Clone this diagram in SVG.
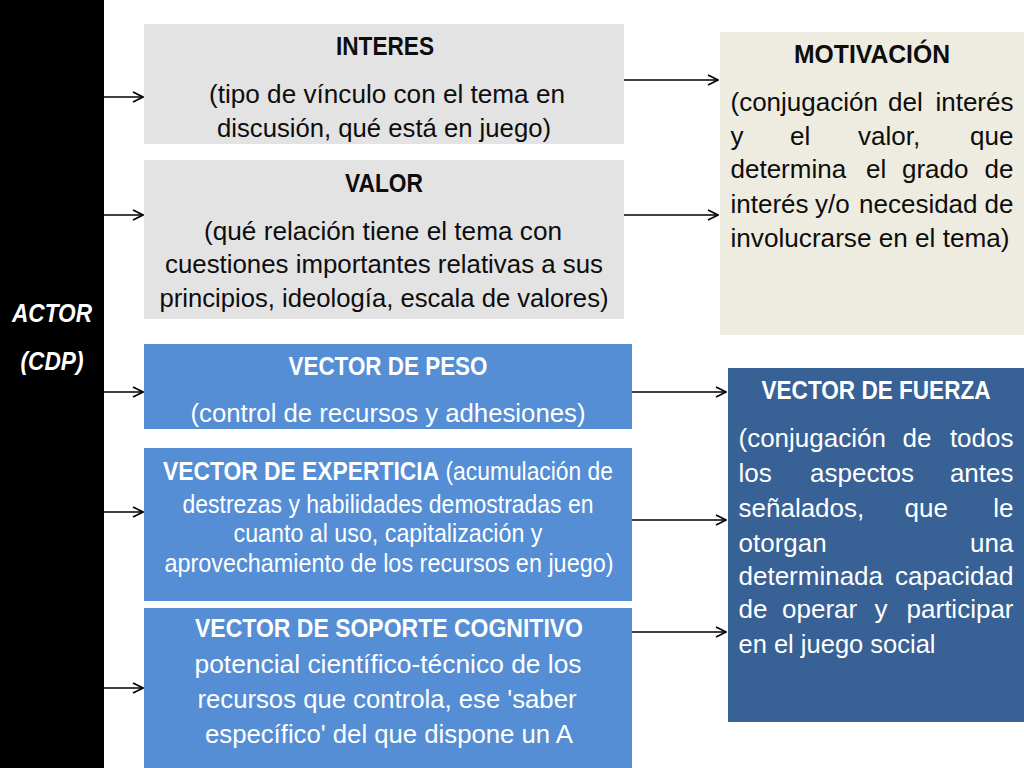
<svg xmlns="http://www.w3.org/2000/svg" width="1024" height="768" viewBox="0 0 1024 768">
<defs>
<style>
text{font-family:"Liberation Sans","Open Sans",Arial,sans-serif;font-size:26px}
.dk{fill:#0d0d0d}
.wt{fill:#fff}
.b{font-weight:bold}
.c{text-anchor:middle}
.conn line{stroke:#000;stroke-width:1.6;marker-end:url(#ah)}
</style>
<marker id="ah" viewBox="0 0 12 12" refX="11" refY="6" markerWidth="12" markerHeight="12" markerUnits="userSpaceOnUse" orient="auto">
<path d="M1,1 L11,6 L1,11" fill="none" stroke="#000" stroke-width="1.6"/>
</marker>
</defs>
<rect width="1024" height="768" fill="#fff"/>

<g id="actor">
<rect x="0" y="0" width="104" height="768" fill="#000"/>
<text class="wt b c" x="52" y="322" font-style="italic" textLength="80" lengthAdjust="spacingAndGlyphs">ACTOR</text>
<text class="wt b c" x="52" y="370" font-style="italic" textLength="63" lengthAdjust="spacingAndGlyphs">(CDP)</text>
</g>

<g id="interes">
<rect x="144" y="24" width="480" height="120" fill="#e3e3e3"/>
<text class="dk b c" x="385" y="55" textLength="98" lengthAdjust="spacingAndGlyphs">INTERES</text>
<text class="dk c" x="387" y="103" textLength="356" lengthAdjust="spacingAndGlyphs">(tipo de vínculo con el tema en</text>
<text class="dk c" x="384" y="137" textLength="334" lengthAdjust="spacingAndGlyphs">discusión, qué está en juego)</text>
</g>

<g id="valor">
<rect x="144" y="160" width="480" height="159" fill="#e3e3e3"/>
<text class="dk b c" x="384" y="192" textLength="78" lengthAdjust="spacingAndGlyphs">VALOR</text>
<text class="dk c" x="383" y="240" textLength="358" lengthAdjust="spacingAndGlyphs">(qué relación tiene el tema con</text>
<text class="dk c" x="384" y="273" textLength="438" lengthAdjust="spacingAndGlyphs">cuestiones importantes relativas a sus</text>
<text class="dk c" x="384" y="307" textLength="449" lengthAdjust="spacingAndGlyphs">principios, ideología, escala de valores)</text>
</g>

<g id="motivacion">
<rect x="720" y="32" width="304" height="303" fill="#eeece1"/>
<text class="dk b c" x="872" y="63" textLength="156" lengthAdjust="spacingAndGlyphs">MOTIVACIÓN</text>
<text class="dk" y="111"><tspan x="730.5">(conjugación</tspan><tspan x="888">del</tspan><tspan x="1013.5" text-anchor="end">interés</tspan></text>
<text class="dk" y="145"><tspan x="730.5">y</tspan><tspan x="790">el</tspan><tspan x="858">valor,</tspan><tspan x="1013.5" text-anchor="end">que</tspan></text>
<text class="dk" y="178"><tspan x="730.5">determina</tspan><tspan x="866">el</tspan><tspan x="902">grado</tspan><tspan x="1013.5" text-anchor="end">de</tspan></text>
<text class="dk" y="213"><tspan x="730.5">interés</tspan><tspan x="815">y/o</tspan><tspan x="859">necesidad</tspan><tspan x="1013.5" text-anchor="end">de</tspan></text>
<text class="dk" x="730.5" y="247" textLength="279" lengthAdjust="spacingAndGlyphs">involucrarse en el tema)</text>
</g>

<g id="peso">
<rect x="144" y="344" width="488" height="85" fill="#558ed5"/>
<text class="wt b c" x="388" y="375" textLength="199" lengthAdjust="spacingAndGlyphs">VECTOR DE PESO</text>
<text class="wt c" x="388" y="422" textLength="395" lengthAdjust="spacingAndGlyphs">(control de recursos y adhesiones)</text>
</g>

<g id="experticia">
<rect x="144" y="448" width="488" height="153" fill="#558ed5"/>
<text class="wt" x="163" y="480" textLength="450" lengthAdjust="spacingAndGlyphs"><tspan class="b">VECTOR DE EXPERTICIA</tspan> (acumulación de</text>
<text class="wt c" x="388" y="513" textLength="411" lengthAdjust="spacingAndGlyphs">destrezas y habilidades demostradas en</text>
<text class="wt c" x="388" y="542" textLength="309" lengthAdjust="spacingAndGlyphs">cuanto al uso, capitalización y</text>
<text class="wt c" x="389" y="572" textLength="449" lengthAdjust="spacingAndGlyphs">aprovechamiento de los recursos en juego)</text>
</g>

<g id="soporte">
<rect x="144" y="608" width="488" height="160" fill="#558ed5"/>
<text class="wt b c" x="389" y="637" textLength="388" lengthAdjust="spacingAndGlyphs">VECTOR DE SOPORTE COGNITIVO</text>
<text class="wt c" x="388" y="673" textLength="387" lengthAdjust="spacingAndGlyphs">potencial científico-técnico de los</text>
<text class="wt c" x="387" y="708" textLength="379" lengthAdjust="spacingAndGlyphs">recursos que controla, ese 'saber</text>
<text class="wt c" x="389" y="743" textLength="368" lengthAdjust="spacingAndGlyphs">específico' del que dispone un A</text>
</g>

<g id="fuerza">
<rect x="728" y="368" width="296" height="354" fill="#386196"/>
<text class="wt b c" x="876" y="399" textLength="229" lengthAdjust="spacingAndGlyphs">VECTOR DE FUERZA</text>
<text class="wt" y="447"><tspan x="738.5">(conjugación</tspan><tspan x="902.5">de</tspan><tspan x="1013.5" text-anchor="end">todos</tspan></text>
<text class="wt" y="482"><tspan x="738.5">los</tspan><tspan x="810">aspectos</tspan><tspan x="1013.5" text-anchor="end">antes</tspan></text>
<text class="wt" y="517"><tspan x="738.5">señalados,</tspan><tspan x="904.5">que</tspan><tspan x="1013.5" text-anchor="end">le</tspan></text>
<text class="wt" y="552"><tspan x="738.5">otorgan</tspan><tspan x="1013.5" text-anchor="end">una</tspan></text>
<text class="wt" y="585"><tspan x="738.5">determinada</tspan><tspan x="1013.5" text-anchor="end">capacidad</tspan></text>
<text class="wt" y="618"><tspan x="738.5">de</tspan><tspan x="782">operar</tspan><tspan x="874.5">y</tspan><tspan x="1013.5" text-anchor="end">participar</tspan></text>
<text class="wt" x="738.5" y="653" textLength="197" lengthAdjust="spacingAndGlyphs">en el juego social</text>
</g>

<g id="connectors" class="conn">
<line x1="104" y1="97" x2="143" y2="97"/>
<line x1="104" y1="215" x2="143" y2="215"/>
<line x1="104" y1="392" x2="143" y2="392"/>
<line x1="104" y1="512" x2="143" y2="512"/>
<line x1="104" y1="688" x2="143" y2="688"/>
<line x1="624" y1="80" x2="718" y2="80"/>
<line x1="624" y1="215" x2="718" y2="215"/>
<line x1="632" y1="392" x2="726" y2="392"/>
<line x1="632" y1="520" x2="726" y2="520"/>
<line x1="632" y1="632" x2="726" y2="632"/>
</g>
</svg>
